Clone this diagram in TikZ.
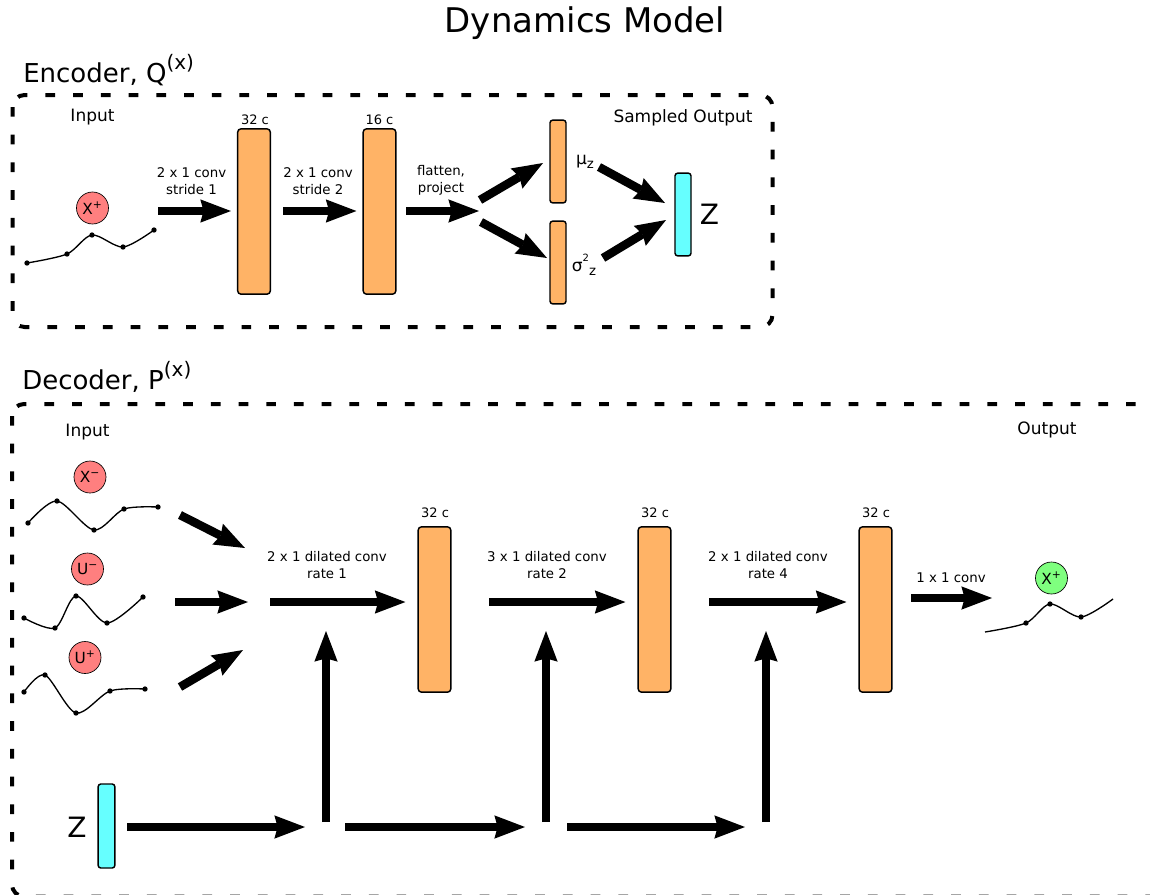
\documentclass[tikz,border=0pt]{standalone}
\usepackage{fontspec}
\setmainfont{DejaVu Sans}
\usetikzlibrary{arrows.meta}
\definecolor{boxorange}{RGB}{255,179,102}
\definecolor{zcyan}{RGB}{102,255,255}
\definecolor{xred}{RGB}{255,127,127}
\definecolor{xgreen}{RGB}{127,255,127}
\begin{document}
\begin{tikzpicture}[x=0.75pt,y=-0.75pt,
  bigarrow/.style={line width=6.4pt,-{Stealth[length=23pt,width=17.5pt,inset=2.5pt,line width=0pt]}},
  framebox/.style={draw,line width=3pt,dash pattern=on 7.3pt off 13.5pt,rounded corners=9pt},
  obox/.style={draw,fill=boxorange,line width=1.1pt,rounded corners=2.5pt,inner sep=0pt,minimum width=24.5pt,minimum height=124pt},
  thinbox/.style={draw,line width=1.1pt,rounded corners=2pt,inner sep=0pt,minimum width=12pt,minimum height=62pt},
  xcirc/.style={circle,draw,line width=0.5pt,minimum size=24pt,inner sep=0pt,font=\fontsize{11.5}{13}\selectfont},
  wave/.style={line width=1pt},
  lbl/.style={font=\fontsize{10}{12.75}\selectfont,align=center,inner sep=0pt},
  chan/.style={font=\fontsize{9.75}{11}\selectfont,inner sep=0pt},
  io/.style={font=\fontsize{12.75}{15}\selectfont,inner sep=0pt},
  bigz/.style={font=\fontsize{21}{24}\selectfont,inner sep=0pt},
  sect/.style={anchor=base west,font=\fontsize{19.5}{23}\selectfont,inner sep=0pt}
]
\useasboundingbox (0,0) rectangle (1150,894);

% ---------- titles ----------
\node[font=\fontsize{25.5}{30}\selectfont] (title) at (585,23) {Dynamics Model};
\node[sect] (enclbl) at (23,82) {Encoder, Q\raisebox{9.5pt}{\fontsize{15}{18}\selectfont (x)}};
\node[sect] (declbl) at (22,389) {Decoder, P\raisebox{9.5pt}{\fontsize{15}{18}\selectfont (x)}};

% ---------- frames ----------
\draw[framebox] (12.5,95) rectangle (772.5,327);
\begin{scope}
\clip (0,0) rectangle (1150,894);
\draw[framebox] (12,404) rectangle (1163,896.5);
\end{scope}

% ================= ENCODER =================
\node[io] (encin) at (92.5,117) {Input};
\node[io] (encout) at (683,118) {Sampled Output};
\node[xcirc,fill=xred] (xp) at (92.5,208) {X\textsuperscript{+}};
\draw[wave] plot[smooth] coordinates {(27,263) (67,254) (92,235) (123,247) (154,230)};
\foreach \p in {(27,263),(67,254),(92,235),(123,247),(154,230)} \fill \p circle[radius=2pt];

\node[obox] (e1) at (254,211.5) {};
\node[obox] (e2) at (379.5,211.5) {};
\node[chan] (e1c) at (255,120) {32 c};
\node[chan] (e2c) at (379.5,120) {16 c};

\coordinate (a1s) at (158,211);
\coordinate (a2s) at (283,211);
\coordinate (a3s) at (406,211);
\coordinate (a3e) at (479,211);
\draw[bigarrow] (a1s) -- ([xshift=-4.5pt]e1.west |- a1s);
\draw[bigarrow] (a2s) -- ([xshift=-4.5pt]e2.west |- a2s);
\draw[bigarrow] (a3s) -- (a3e);
\node[lbl] (l1) at (191.5,181.5) {2 x 1 conv\\stride 1};
\node[lbl] (l2) at (318,181.5) {2 x 1 conv\\stride 2};
\node[lbl] (l3) at (441,180.5) {flatten,\\project};

\node[thinbox,fill=boxorange] (mu) at (558,161.5) {};
\node[thinbox,fill=boxorange] (sig) at (558,262.5) {};
\node[io] (mul) at (585,162) {μ\raisebox{-0.22em}{\fontsize{10}{11}\selectfont z}};
\node[io] (sigl) at (584,265) {σ\raisebox{0.55em}{\fontsize{7.5}{8}\selectfont 2}\raisebox{-0.25em}{\fontsize{10}{11}\selectfont z}};

\coordinate (upS) at (480,200);
\coordinate (upE) at (543,163);
\coordinate (dnS) at (481,222);
\coordinate (dnE) at (547,258);
\draw[bigarrow] (upS) -- (upE);
\draw[bigarrow] (dnS) -- (dnE);

\node[thinbox,fill=zcyan] (zenc) at (683,214.5) {};
\node[bigz] (zencl) at (709.5,214) {Z};
\coordinate (muS) at (599,167);
\coordinate (muE) at (665,203);
\coordinate (sgS) at (603,258);
\coordinate (sgE) at (666,220);
\draw[bigarrow] (muS) -- (muE);
\draw[bigarrow] (sgS) -- (sgE);

% ================= DECODER =================
\node[io] (decin) at (87.5,432) {Input};
\node[io] (decout) at (1047,430) {Output};

\node[xcirc,fill=xred] (xm) at (90,477) {X\textsuperscript{−}};
\draw[wave] plot[smooth] coordinates {(28,523) (57,501) (94,530) (124,509) (158,507)};
\foreach \p in {(28,523),(57,501),(94,530),(124,509),(158,507)} \fill \p circle[radius=2pt];

\node[xcirc,fill=xred] (um) at (87.5,569) {U\textsuperscript{−}};
\draw[wave] plot[smooth] coordinates {(24,618) (55,628) (76,596) (107,623) (143,597)};
\foreach \p in {(24,618),(55,628),(76,596),(107,623),(143,597)} \fill \p circle[radius=2pt];

\node[xcirc,fill=xred] (up) at (85,657.5) {U\textsuperscript{+}};
\draw[wave] plot[smooth] coordinates {(24,692) (45,675) (76,713) (110,691) (145,689)};
\foreach \p in {(24,692),(45,675),(76,713),(110,691),(145,689)} \fill \p circle[radius=2pt];

\coordinate (i1s) at (180,515);
\coordinate (i1e) at (245,548);
\coordinate (i2s) at (175,602);
\coordinate (i2e) at (248,602);
\coordinate (i3s) at (180,687);
\coordinate (i3e) at (243,650);
\draw[bigarrow] (i1s) -- (i1e);
\draw[bigarrow] (i2s) -- (i2e);
\draw[bigarrow] (i3s) -- (i3e);

\node[obox] (d1) at (434.5,609.5) {};
\node[obox] (d2) at (654.5,609.5) {};
\node[obox] (d3) at (875.5,609.5) {};
\node[chan] (d1c) at (435,513) {32 c};
\node[chan] (d2c) at (655,513) {32 c};
\node[chan] (d3c) at (876,513) {32 c};

\coordinate (m1s) at (270,602);
\coordinate (m2s) at (489,602);
\coordinate (m3s) at (709,602);
\draw[bigarrow] (m1s) -- ([xshift=-9pt]d1.west |- m1s);
\draw[bigarrow] (m2s) -- ([xshift=-9pt]d2.west |- m2s);
\draw[bigarrow] (m3s) -- ([xshift=-9pt]d3.west |- m3s);
\node[lbl] (dl1) at (327,565.5) {2 x 1 dilated conv\\rate 1};
\node[lbl] (dl2) at (547,565.5) {3 x 1 dilated conv\\rate 2};
\node[lbl] (dl3) at (768,565.5) {2 x 1 dilated conv\\rate 4};

\coordinate (o1s) at (911,598);
\coordinate (o1e) at (992,598);
\draw[bigarrow] (o1s) -- (o1e);
\node[lbl] (ol) at (951,578) {1 x 1 conv};

\node[xcirc,fill=xgreen] (xo) at (1051.5,578) {X\textsuperscript{+}};
\draw[wave] plot[smooth] coordinates {(985,632) (1026,623) (1050,604) (1081,617) (1113,599)};
\foreach \p in {(1026,623),(1050,604),(1081,617)} \fill \p circle[radius=2pt];

% ---------- Z branch ----------
\node[thinbox,fill=zcyan,minimum height=63pt,minimum width=12.5pt] (zdec) at (106.5,826) {};
\node[bigz] (zdecl) at (77,827) {Z};

\coordinate (b1s) at (127,827);
\coordinate (b1e) at (305,827);
\coordinate (b2s) at (345,827);
\coordinate (b2e) at (525,827);
\coordinate (b3s) at (567,827);
\coordinate (b3e) at (745,827);
\draw[bigarrow] (b1s) -- (b1e);
\draw[bigarrow] (b2s) -- (b2e);
\draw[bigarrow] (b3s) -- (b3e);

\coordinate (v1s) at (326,822);
\coordinate (v1e) at (326,631);
\coordinate (v2s) at (546,822);
\coordinate (v2e) at (546,631);
\coordinate (v3s) at (766,822);
\coordinate (v3e) at (766,631);
\draw[bigarrow] (v1s) -- (v1e);
\draw[bigarrow] (v2s) -- (v2e);
\draw[bigarrow] (v3s) -- (v3e);
\end{tikzpicture}
\end{document}
